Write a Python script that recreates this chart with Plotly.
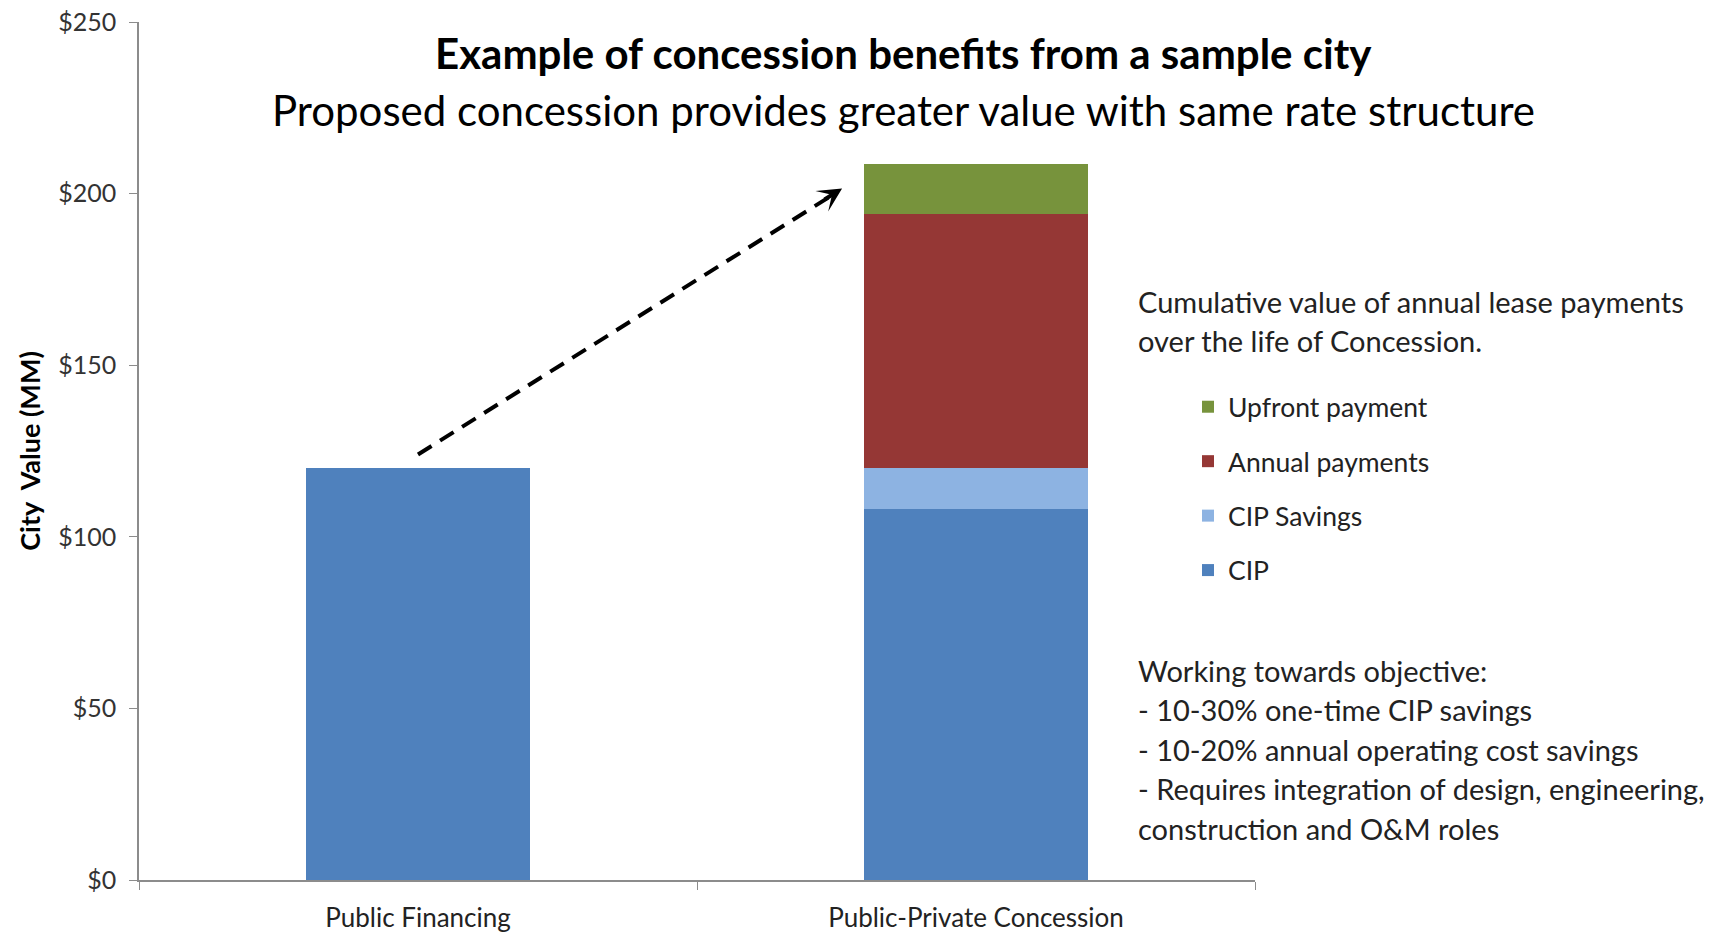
import plotly.graph_objects as go

categories = ["Public Financing", "Public-Private Concession"]
series_names = ["CIP", "CIP Savings", "Annual payments", "Upfront payment"]
cip = [120, 108]
cip_savings = [0, 12]
annual_payments = [0, 74]
upfront_payment = [0, 14.5]
colors = ["#4F81BD", "#8DB3E2", "#953735", "#77933C"]
y_ticks = [0, 50, 100, 150, 200, 250]
y_tick_labels = ["$0", "$50", "$100", "$150", "$200", "$250"]

title_text = "<b>Example of concession benefits from a sample city</b>"
subtitle_text = "Proposed concession provides greater value with same rate structure"
note_lines = ["Cumulative value of annual lease payments", "over the life of Concession."]
objective_lines = [
    "Working towards objective:",
    "- 10-30% one-time CIP savings",
    "- 10-20% annual operating cost savings",
    "- Requires integration of design, engineering,",
    "construction and O&M roles",
]

FONT = "Lato, 'Open Sans', sans-serif"
W, H = 1721, 932
L, R, T, B = 139, 466, 22, 52
pw, ph = W - L - R, H - T - B

def px_x(px):
    return (px - L) / pw

def px_y(py):
    return (H - B - py) / ph

fig = go.Figure()
series = [cip, cip_savings, annual_payments, upfront_payment]
for i, (name, vals, col) in enumerate(zip(series_names, series, colors)):
    fig.add_trace(go.Bar(
        x=categories, y=vals, name=name, marker=dict(color=col, line=dict(width=0)),
        legendgroup=name, legendrank=len(series_names) - i,
    ))

total_public = cip[0] + cip_savings[0] + annual_payments[0] + upfront_payment[0]
total_ppc = cip[1] + cip_savings[1] + annual_payments[1] + upfront_payment[1]

# dashed arrow
x0, y0 = 0.0, total_public + 4
x1, y1 = 0.76, total_ppc - 7
fig.add_shape(type="line", xref="x", yref="y", x0=x0, y0=y0, x1=x1 - 0.02, y1=y1 - 2.2,
              line=dict(color="black", width=4, dash="16px,10px"))
fig.add_annotation(x=x1, y=y1, xref="x", yref="y", ax=-19, ay=12, axref="pixel", ayref="pixel",
                   showarrow=True, arrowhead=3, arrowsize=1.0, arrowwidth=4, arrowcolor="black", text="")

# titles
fig.add_annotation(text=title_text, xref="paper", yref="paper", x=px_x(903), y=px_y(53),
                   showarrow=False, font=dict(family=FONT, size=42, color="black"), xanchor="center", yanchor="middle")
fig.add_annotation(text=subtitle_text, xref="paper", yref="paper", x=px_x(903), y=px_y(110),
                   showarrow=False, font=dict(family=FONT, size=42, color="black"), xanchor="center", yanchor="middle")

for k, line in enumerate(note_lines):
    fig.add_annotation(text=line, xref="paper", yref="paper", x=px_x(1136), y=px_y(301 + 39 * k),
                       showarrow=False, font=dict(family=FONT, size=29, color="#222"), xanchor="left", yanchor="middle")
for k, line in enumerate(objective_lines):
    fig.add_annotation(text=line, xref="paper", yref="paper", x=px_x(1136), y=px_y(670 + 39.5 * k),
                       showarrow=False, font=dict(family=FONT, size=29, color="#222"), xanchor="left", yanchor="middle")

fig.update_layout(
    width=W, height=H,
    margin=dict(l=L, r=R, t=T, b=B, autoexpand=False),
    barmode="stack", bargap=0.6,
    plot_bgcolor="white", paper_bgcolor="white",
    font=dict(family=FONT, color="#222"),
    showlegend=True,
    legend=dict(x=px_x(1188), y=px_y(383), xanchor="left", yanchor="top",
                font=dict(family=FONT, size=26.5, color="#222"),
                tracegroupgap=17, bgcolor="rgba(0,0,0,0)", itemclick=False),
    xaxis=dict(showline=True, linecolor="#8c8c8c", linewidth=1.5, ticks="outside", tickson="boundaries",
               ticklen=8, tickcolor="#8c8c8c", tickfont=dict(family=FONT, size=26, color="#222"),
               showgrid=False, ticklabelstandoff=14),
    yaxis=dict(range=[0, 250], tickvals=y_ticks, ticktext=y_tick_labels, showline=True, linecolor="#8c8c8c",
               linewidth=1.5, ticks="outside", ticklen=8, tickcolor="#8c8c8c", showgrid=False, zeroline=False,
               tickfont=dict(family=FONT, size=25, color="#333"), ticklabelstandoff=8,
               title=dict(text="<b>City  Value (MM)</b>", font=dict(family=FONT, size=27, color="black"), standoff=10)),
)

fig.write_html("out.html")
